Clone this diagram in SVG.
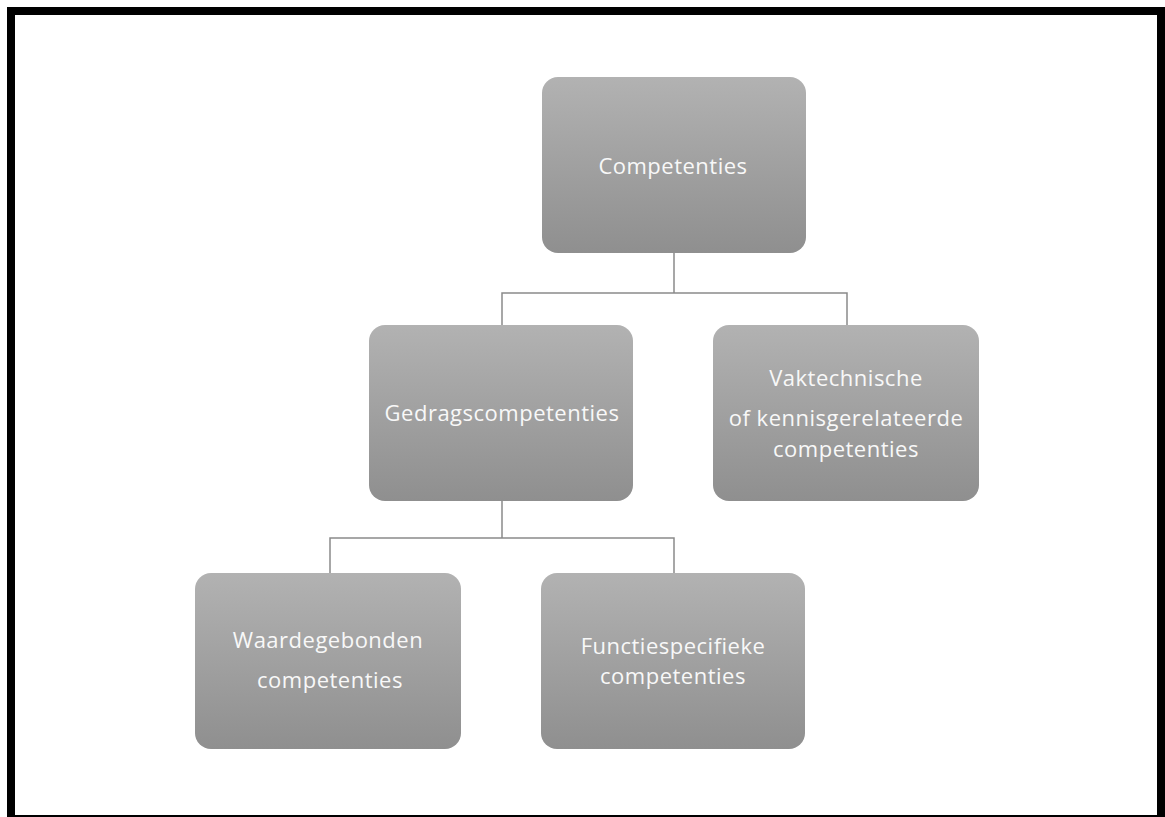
<svg xmlns="http://www.w3.org/2000/svg" width="1165" height="817" viewBox="0 0 1165 817">
  <defs>
    <linearGradient id="g" x1="0" y1="0" x2="0" y2="1">
      <stop offset="0" stop-color="#b2b2b2"/>
      <stop offset="1" stop-color="#8f8f8f"/>
    </linearGradient>
  </defs>
  <style>
    .box { fill: url(#g); }
    .t { font-family: "Open Sans", "Noto Sans", sans-serif; font-size: 22px; letter-spacing: 0.5px; fill: #f8f8f8; text-anchor: middle; }
    .c { fill: none; stroke: #8a8a8a; stroke-width: 1.5; }
  </style>
  <rect x="0" y="0" width="1165" height="817" fill="#ffffff"/>
  <rect x="11" y="11" width="1150" height="808" fill="none" stroke="#000000" stroke-width="8"/>
  <g id="connectors">
    <path class="c" d="M674 253 V293 M502 325 V293 H847 V325"/>
    <path class="c" d="M502 500 V538 M330 574 V538 H674 V574"/>
  </g>
  <g id="n1">
    <rect class="box" x="542" y="77" width="264" height="176" rx="16"/>
    <text class="t" x="673" y="174">Competenties</text>
  </g>
  <g id="n2">
    <rect class="box" x="369" y="325" width="264" height="176" rx="16"/>
    <text class="t" x="502" y="421">Gedragscompetenties</text>
  </g>
  <g id="n3">
    <rect class="box" x="713" y="325" width="266" height="176" rx="16"/>
    <text class="t" x="846" y="386">Vaktechnische</text>
    <text class="t" x="846" y="426">of kennisgerelateerde</text>
    <text class="t" x="846" y="457">competenties</text>
  </g>
  <g id="n4">
    <rect class="box" x="195" y="573" width="266" height="176" rx="16"/>
    <text class="t" x="328" y="648">Waardegebonden</text>
    <text class="t" x="330" y="688">competenties</text>
  </g>
  <g id="n5">
    <rect class="box" x="541" y="573" width="264" height="176" rx="16"/>
    <text class="t" x="673" y="654">Functiespecifieke</text>
    <text class="t" x="673" y="684">competenties</text>
  </g>
</svg>
